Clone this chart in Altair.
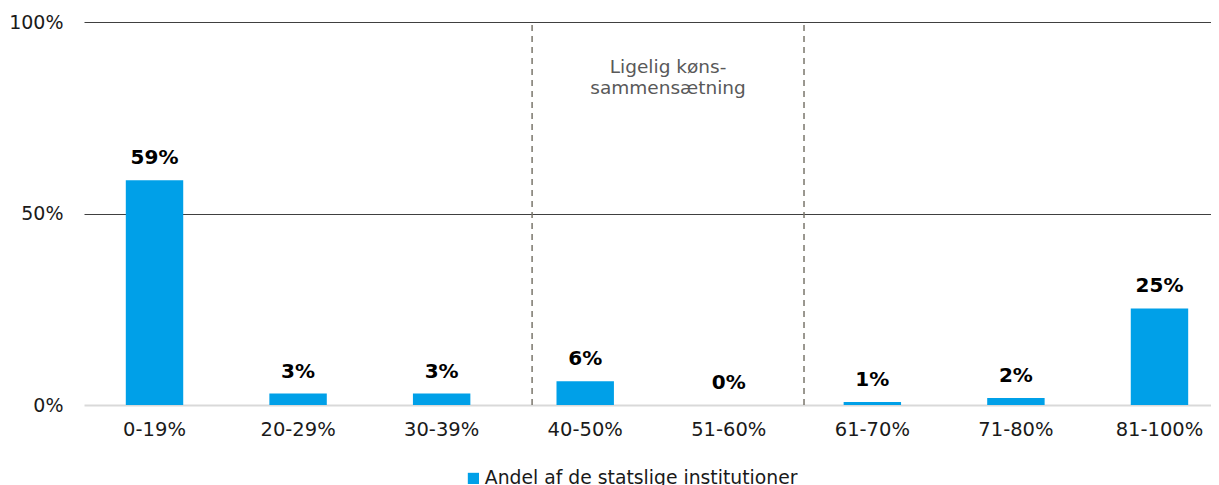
import altair as alt
import pandas as pd

categories = ["0-19%", "20-29%", "30-39%", "40-50%", "51-60%", "61-70%", "71-80%", "81-100%"]
shares = [0.587, 0.030, 0.030, 0.062, 0.0, 0.008, 0.018, 0.252]
series_name = "Andel af de statslige institutioner"

# divider positions, in category-slot units (0 = left edge of first slot, 8 = right edge)
divider_pos = [3.13, 5.024]
annotation_lines = ["Ligelig køns-", "sammensætning"]
annotation_y = 0.867

BLUE = "#00A0E8"
FONT = "DejaVu Sans"
W, H = 1127, 383

# band layout (the reference plot runs past the right edge of the picture)
N = len(categories)
P_INNER, P_OUTER, ALIGN = 0.6, 0.225, 0.647
step = W / (N - P_INNER + 2 * P_OUTER)
leftover = W - (N - P_INNER) * step
slot0_left = ALIGN * leftover - P_INNER * step / 2
slot_domain = [-slot0_left / step, (W - slot0_left) / step]

bars_df = pd.DataFrame({"category": categories, "share": shares, "series": [series_name] * N})
div_df = pd.DataFrame({"pos": divider_pos, "y0": [0.0] * len(divider_pos), "y1": [1.0] * len(divider_pos)})
ann_df = pd.DataFrame({"pos": [sum(divider_pos) / len(divider_pos)], "y": [annotation_y]})

x_band = alt.X(
    "category:N",
    sort=categories,
    scale=alt.Scale(paddingInner=P_INNER, paddingOuter=P_OUTER, align=ALIGN),
    axis=alt.Axis(
        title=None, labelAngle=0, labelFontSize=19.5, labelFont=FONT, labelColor="#1a1a1a",
        ticks=False, domainColor="#d9d9d9", domainWidth=2, labelPadding=15,
    ),
)
y_axis = alt.Axis(
    title=None, values=[0, 0.5, 1], format=".0%", labelFontSize=19, labelFont=FONT,
    labelColor="#1a1a1a", ticks=False, domain=False, labelPadding=21,
    gridColor={"condition": {"test": "datum.value === 0", "value": "transparent"}, "value": "#404040"},
    gridWidth=1,
)
y_scale = alt.Scale(domain=[0, 1])

bars = alt.Chart(bars_df).mark_bar(color=BLUE).encode(
    x=x_band,
    y=alt.Y("share:Q", scale=y_scale, axis=y_axis),
    color=alt.Color(
        "series:N",
        scale=alt.Scale(range=[BLUE]),
        legend=alt.Legend(
            title=None, orient="none", legendX=380, legendY=447, symbolType="square",
            symbolSize=125, symbolStrokeWidth=0, labelFontSize=18.8, labelFont=FONT,
            labelColor="#1a1a1a", padding=0, labelOffset=2, labelLimit=600,
        ),
    ),
)

labels = alt.Chart(bars_df).mark_text(
    font=FONT, fontSize=20, fontWeight="bold", color="#000000", baseline="alphabetic", dy=-16
).encode(
    x=alt.X("category:N", sort=categories),
    y=alt.Y("share:Q", scale=y_scale, axis=y_axis),
    text=alt.Text("share:Q", format=".0%"),
)

band_layer = alt.layer(bars, labels)

x_lin = alt.X("pos:Q", scale=alt.Scale(domain=slot_domain, nice=False, zero=False), axis=None)

dividers = alt.Chart(div_df).mark_rule(
    color="#7a766c", strokeWidth=1.5, strokeDash=[6, 5]
).encode(
    x=x_lin,
    y=alt.Y("y0:Q", scale=y_scale, axis=y_axis),
    y2="y1:Q",
)

annotation = alt.Chart(ann_df).mark_text(
    text=annotation_lines, font=FONT, fontSize=18.5, color="#595959", lineHeight=21,
    align="center", baseline="alphabetic",
).encode(
    x=x_lin,
    y=alt.Y("y:Q", scale=y_scale, axis=y_axis),
)

chart = alt.layer(band_layer, dividers, annotation).resolve_scale(x="independent").properties(
    width=W, height=H,
    autosize=alt.AutoSizeParams(type="none"),
    padding={"left": 76, "top": 14, "right": 0, "bottom": 80},
    background="white",
).configure_view(stroke=None)

chart.save("out.html", embed_options={"renderer": "svg", "actions": False})
